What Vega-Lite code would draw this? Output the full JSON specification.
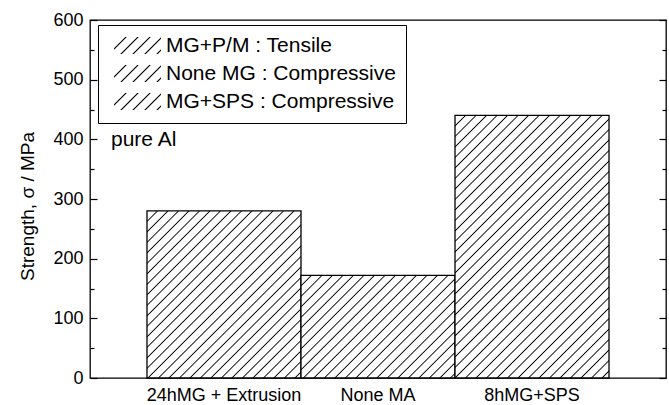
{
  "$schema": "https://vega.github.io/schema/vega-lite/v6.json",
  "width": 576,
  "height": 358,
  "autosize": "none",
  "padding": {"left": 90, "top": 20, "right": 3, "bottom": 27},
  "config": {"font": "Liberation Sans", "view": {"stroke": "black", "strokeWidth": 1.3},
    "legend": {"symbolStrokeColor": "black", "symbolStrokeWidth": 1.2}},
  "resolve": {"axis": {"y": "independent"}},
  "layer": [
    {
      "data": {"values": [
        {"cat": "24hMG + Extrusion", "val": 280, "test": "MG+P/M : Tensile"},
        {"cat": "None MA", "val": 172, "test": "None MG : Compressive"},
        {"cat": "8hMG+SPS", "val": 440, "test": "MG+SPS : Compressive"}
      ]},
      "mark": {"type": "bar", "stroke": "black", "strokeWidth": 1.3},
      "encoding": {
        "x": {"field": "cat", "type": "nominal", "sort": null,
          "scale": {"type": "band", "domain": ["24hMG + Extrusion", "None MA", "8hMG+SPS"], "paddingInner": 0, "paddingOuter": 0.37},
          "axis": {"title": null, "ticks": false, "domain": false, "labelFontSize": 18, "labelPadding": 8, "labelColor": "black", "labelAngle": 0}},
        "y": {"field": "val", "type": "quantitative",
          "scale": {"domain": [0, 600], "nice": false},
          "axis": {"values": [0,50,100,150,200,250,300,350,400,450,500,550,600],
            "labelExpr": "datum.value % 100 === 0 ? datum.label : ''",
            "tickSize": {"condition": {"test": "datum.value % 100 === 0", "value": -7}, "value": -4},
            "tickColor": "black", "tickWidth": 1.2,
            "labelPadding": 14, "labelFontSize": 18, "labelColor": "black",
            "domain": false, "grid": false,
            "title": "Strength, σ / MPa", "titleFontSize": 19, "titleFontWeight": "normal", "titleColor": "black",
            "titleX": -57, "titleY": 186, "titleAlign": "center", "titleBaseline": "alphabetic", "titleAngle": -90}},
        "stroke": {"value": "black"},
        "fill": {
          "condition": [
            {"test": "datum.cat === '24hMG + Extrusion'", "value":
              {"gradient": "linear", "x1": 0, "y1": 0, "x2": 1.2528, "y2": 1.3591, "stops": [
                {"offset":0.022,"color":"#fff"},{"offset":0.025,"color":"#000"},{"offset":0.028,"color":"#fff"},
                {"offset":0.047,"color":"#fff"},{"offset":0.05,"color":"#000"},{"offset":0.053,"color":"#fff"},
                {"offset":0.072,"color":"#fff"},{"offset":0.075,"color":"#000"},{"offset":0.078,"color":"#fff"},
                {"offset":0.097,"color":"#fff"},{"offset":0.1,"color":"#000"},{"offset":0.103,"color":"#fff"},
                {"offset":0.122,"color":"#fff"},{"offset":0.125,"color":"#000"},{"offset":0.128,"color":"#fff"},
                {"offset":0.147,"color":"#fff"},{"offset":0.15,"color":"#000"},{"offset":0.153,"color":"#fff"},
                {"offset":0.172,"color":"#fff"},{"offset":0.175,"color":"#000"},{"offset":0.178,"color":"#fff"},
                {"offset":0.197,"color":"#fff"},{"offset":0.2,"color":"#000"},{"offset":0.203,"color":"#fff"},
                {"offset":0.222,"color":"#fff"},{"offset":0.225,"color":"#000"},{"offset":0.228,"color":"#fff"},
                {"offset":0.247,"color":"#fff"},{"offset":0.25,"color":"#000"},{"offset":0.253,"color":"#fff"},
                {"offset":0.272,"color":"#fff"},{"offset":0.275,"color":"#000"},{"offset":0.278,"color":"#fff"},
                {"offset":0.297,"color":"#fff"},{"offset":0.3,"color":"#000"},{"offset":0.303,"color":"#fff"},
                {"offset":0.322,"color":"#fff"},{"offset":0.325,"color":"#000"},{"offset":0.328,"color":"#fff"},
                {"offset":0.347,"color":"#fff"},{"offset":0.35,"color":"#000"},{"offset":0.353,"color":"#fff"},
                {"offset":0.372,"color":"#fff"},{"offset":0.375,"color":"#000"},{"offset":0.378,"color":"#fff"},
                {"offset":0.397,"color":"#fff"},{"offset":0.4,"color":"#000"},{"offset":0.403,"color":"#fff"},
                {"offset":0.422,"color":"#fff"},{"offset":0.425,"color":"#000"},{"offset":0.428,"color":"#fff"},
                {"offset":0.447,"color":"#fff"},{"offset":0.45,"color":"#000"},{"offset":0.453,"color":"#fff"},
                {"offset":0.472,"color":"#fff"},{"offset":0.475,"color":"#000"},{"offset":0.478,"color":"#fff"},
                {"offset":0.497,"color":"#fff"},{"offset":0.5,"color":"#000"},{"offset":0.503,"color":"#fff"},
                {"offset":0.522,"color":"#fff"},{"offset":0.525,"color":"#000"},{"offset":0.528,"color":"#fff"},
                {"offset":0.547,"color":"#fff"},{"offset":0.55,"color":"#000"},{"offset":0.553,"color":"#fff"},
                {"offset":0.572,"color":"#fff"},{"offset":0.575,"color":"#000"},{"offset":0.578,"color":"#fff"},
                {"offset":0.597,"color":"#fff"},{"offset":0.6,"color":"#000"},{"offset":0.603,"color":"#fff"},
                {"offset":0.622,"color":"#fff"},{"offset":0.625,"color":"#000"},{"offset":0.628,"color":"#fff"},
                {"offset":0.647,"color":"#fff"},{"offset":0.65,"color":"#000"},{"offset":0.653,"color":"#fff"},
                {"offset":0.672,"color":"#fff"},{"offset":0.675,"color":"#000"},{"offset":0.678,"color":"#fff"},
                {"offset":0.697,"color":"#fff"},{"offset":0.7,"color":"#000"},{"offset":0.703,"color":"#fff"},
                {"offset":0.722,"color":"#fff"},{"offset":0.725,"color":"#000"},{"offset":0.728,"color":"#fff"},
                {"offset":0.747,"color":"#fff"},{"offset":0.75,"color":"#000"},{"offset":0.753,"color":"#fff"}
              ]}},
            {"test": "datum.cat === 'None MA'", "value":
              {"gradient": "linear", "x1": 0, "y1": 0, "x2": 1.8885, "y2": 1.2586, "stops": [
                {"offset":0.022,"color":"#fff"},{"offset":0.025,"color":"#000"},{"offset":0.028,"color":"#fff"},
                {"offset":0.047,"color":"#fff"},{"offset":0.05,"color":"#000"},{"offset":0.053,"color":"#fff"},
                {"offset":0.072,"color":"#fff"},{"offset":0.075,"color":"#000"},{"offset":0.078,"color":"#fff"},
                {"offset":0.097,"color":"#fff"},{"offset":0.1,"color":"#000"},{"offset":0.103,"color":"#fff"},
                {"offset":0.122,"color":"#fff"},{"offset":0.125,"color":"#000"},{"offset":0.128,"color":"#fff"},
                {"offset":0.147,"color":"#fff"},{"offset":0.15,"color":"#000"},{"offset":0.153,"color":"#fff"},
                {"offset":0.172,"color":"#fff"},{"offset":0.175,"color":"#000"},{"offset":0.178,"color":"#fff"},
                {"offset":0.197,"color":"#fff"},{"offset":0.2,"color":"#000"},{"offset":0.203,"color":"#fff"},
                {"offset":0.222,"color":"#fff"},{"offset":0.225,"color":"#000"},{"offset":0.228,"color":"#fff"},
                {"offset":0.247,"color":"#fff"},{"offset":0.25,"color":"#000"},{"offset":0.253,"color":"#fff"},
                {"offset":0.272,"color":"#fff"},{"offset":0.275,"color":"#000"},{"offset":0.278,"color":"#fff"},
                {"offset":0.297,"color":"#fff"},{"offset":0.3,"color":"#000"},{"offset":0.303,"color":"#fff"},
                {"offset":0.322,"color":"#fff"},{"offset":0.325,"color":"#000"},{"offset":0.328,"color":"#fff"},
                {"offset":0.347,"color":"#fff"},{"offset":0.35,"color":"#000"},{"offset":0.353,"color":"#fff"},
                {"offset":0.372,"color":"#fff"},{"offset":0.375,"color":"#000"},{"offset":0.378,"color":"#fff"},
                {"offset":0.397,"color":"#fff"},{"offset":0.4,"color":"#000"},{"offset":0.403,"color":"#fff"},
                {"offset":0.422,"color":"#fff"},{"offset":0.425,"color":"#000"},{"offset":0.428,"color":"#fff"},
                {"offset":0.447,"color":"#fff"},{"offset":0.45,"color":"#000"},{"offset":0.453,"color":"#fff"},
                {"offset":0.472,"color":"#fff"},{"offset":0.475,"color":"#000"},{"offset":0.478,"color":"#fff"},
                {"offset":0.497,"color":"#fff"},{"offset":0.5,"color":"#000"},{"offset":0.503,"color":"#fff"},
                {"offset":0.522,"color":"#fff"},{"offset":0.525,"color":"#000"},{"offset":0.528,"color":"#fff"},
                {"offset":0.547,"color":"#fff"},{"offset":0.55,"color":"#000"},{"offset":0.553,"color":"#fff"},
                {"offset":0.572,"color":"#fff"},{"offset":0.575,"color":"#000"},{"offset":0.578,"color":"#fff"},
                {"offset":0.597,"color":"#fff"},{"offset":0.6,"color":"#000"},{"offset":0.603,"color":"#fff"}
              ]}},
            {"test": "datum.cat === '8hMG+SPS'", "value":
              {"gradient": "linear", "x1": 0, "y1": 0, "x2": 0.6982, "y2": 1.1903, "stops": [
                {"offset":0.022,"color":"#fff"},{"offset":0.025,"color":"#000"},{"offset":0.028,"color":"#fff"},
                {"offset":0.047,"color":"#fff"},{"offset":0.05,"color":"#000"},{"offset":0.053,"color":"#fff"},
                {"offset":0.072,"color":"#fff"},{"offset":0.075,"color":"#000"},{"offset":0.078,"color":"#fff"},
                {"offset":0.097,"color":"#fff"},{"offset":0.1,"color":"#000"},{"offset":0.103,"color":"#fff"},
                {"offset":0.122,"color":"#fff"},{"offset":0.125,"color":"#000"},{"offset":0.128,"color":"#fff"},
                {"offset":0.147,"color":"#fff"},{"offset":0.15,"color":"#000"},{"offset":0.153,"color":"#fff"},
                {"offset":0.172,"color":"#fff"},{"offset":0.175,"color":"#000"},{"offset":0.178,"color":"#fff"},
                {"offset":0.197,"color":"#fff"},{"offset":0.2,"color":"#000"},{"offset":0.203,"color":"#fff"},
                {"offset":0.222,"color":"#fff"},{"offset":0.225,"color":"#000"},{"offset":0.228,"color":"#fff"},
                {"offset":0.247,"color":"#fff"},{"offset":0.25,"color":"#000"},{"offset":0.253,"color":"#fff"},
                {"offset":0.272,"color":"#fff"},{"offset":0.275,"color":"#000"},{"offset":0.278,"color":"#fff"},
                {"offset":0.297,"color":"#fff"},{"offset":0.3,"color":"#000"},{"offset":0.303,"color":"#fff"},
                {"offset":0.322,"color":"#fff"},{"offset":0.325,"color":"#000"},{"offset":0.328,"color":"#fff"},
                {"offset":0.347,"color":"#fff"},{"offset":0.35,"color":"#000"},{"offset":0.353,"color":"#fff"},
                {"offset":0.372,"color":"#fff"},{"offset":0.375,"color":"#000"},{"offset":0.378,"color":"#fff"},
                {"offset":0.397,"color":"#fff"},{"offset":0.4,"color":"#000"},{"offset":0.403,"color":"#fff"},
                {"offset":0.422,"color":"#fff"},{"offset":0.425,"color":"#000"},{"offset":0.428,"color":"#fff"},
                {"offset":0.447,"color":"#fff"},{"offset":0.45,"color":"#000"},{"offset":0.453,"color":"#fff"},
                {"offset":0.472,"color":"#fff"},{"offset":0.475,"color":"#000"},{"offset":0.478,"color":"#fff"},
                {"offset":0.497,"color":"#fff"},{"offset":0.5,"color":"#000"},{"offset":0.503,"color":"#fff"},
                {"offset":0.522,"color":"#fff"},{"offset":0.525,"color":"#000"},{"offset":0.528,"color":"#fff"},
                {"offset":0.547,"color":"#fff"},{"offset":0.55,"color":"#000"},{"offset":0.553,"color":"#fff"},
                {"offset":0.572,"color":"#fff"},{"offset":0.575,"color":"#000"},{"offset":0.578,"color":"#fff"},
                {"offset":0.597,"color":"#fff"},{"offset":0.6,"color":"#000"},{"offset":0.603,"color":"#fff"},
                {"offset":0.622,"color":"#fff"},{"offset":0.625,"color":"#000"},{"offset":0.628,"color":"#fff"},
                {"offset":0.647,"color":"#fff"},{"offset":0.65,"color":"#000"},{"offset":0.653,"color":"#fff"},
                {"offset":0.672,"color":"#fff"},{"offset":0.675,"color":"#000"},{"offset":0.678,"color":"#fff"},
                {"offset":0.697,"color":"#fff"},{"offset":0.7,"color":"#000"},{"offset":0.703,"color":"#fff"},
                {"offset":0.722,"color":"#fff"},{"offset":0.725,"color":"#000"},{"offset":0.728,"color":"#fff"},
                {"offset":0.747,"color":"#fff"},{"offset":0.75,"color":"#000"},{"offset":0.753,"color":"#fff"},
                {"offset":0.772,"color":"#fff"},{"offset":0.775,"color":"#000"},{"offset":0.778,"color":"#fff"},
                {"offset":0.797,"color":"#fff"},{"offset":0.8,"color":"#000"},{"offset":0.803,"color":"#fff"},
                {"offset":0.822,"color":"#fff"},{"offset":0.825,"color":"#000"},{"offset":0.828,"color":"#fff"},
                {"offset":0.847,"color":"#fff"},{"offset":0.85,"color":"#000"},{"offset":0.853,"color":"#fff"},
                {"offset":0.872,"color":"#fff"},{"offset":0.875,"color":"#000"},{"offset":0.878,"color":"#fff"},
                {"offset":0.897,"color":"#fff"},{"offset":0.9,"color":"#000"},{"offset":0.903,"color":"#fff"},
                {"offset":0.922,"color":"#fff"},{"offset":0.925,"color":"#000"},{"offset":0.928,"color":"#fff"},
                {"offset":0.947,"color":"#fff"},{"offset":0.95,"color":"#000"},{"offset":0.953,"color":"#fff"},
                {"offset":0.972,"color":"#fff"},{"offset":0.975,"color":"#000"},{"offset":0.978,"color":"#fff"}
              ]}}
          ],
          "value":
              {"gradient": "linear", "x1": 0, "y1": 0, "x2": 9.04, "y2": 3.278, "stops": [
                {"offset":0.022,"color":"#fff"},{"offset":0.025,"color":"#000"},{"offset":0.028,"color":"#fff"},
                {"offset":0.047,"color":"#fff"},{"offset":0.05,"color":"#000"},{"offset":0.053,"color":"#fff"},
                {"offset":0.072,"color":"#fff"},{"offset":0.075,"color":"#000"},{"offset":0.078,"color":"#fff"},
                {"offset":0.097,"color":"#fff"},{"offset":0.1,"color":"#000"},{"offset":0.103,"color":"#fff"},
                {"offset":0.122,"color":"#fff"},{"offset":0.125,"color":"#000"},{"offset":0.128,"color":"#fff"}
              ]}
        },
        "opacity": {"field": "test", "type": "ordinal", "sort": null,
          "scale": {"domain": ["MG+P/M : Tensile", "None MG : Compressive", "MG+SPS : Compressive"], "range": [1, 1, 1]},
          "legend": {"orient": "none", "legendX": 8, "legendY": 5, "title": null,
            "padding": 10, "strokeColor": "black", "fillColor": "white",
            "symbolType": "M-2.76,-1H2.76V1H-2.76Z", "symbolSize": 289,
            "symbolStrokeColor": "black", "symbolStrokeWidth": 1.2,
            "symbolOffset": 19, "labelOffset": 18, "rowPadding": 5,
            "labelFontSize": 21, "labelColor": "black", "labelLimit": 400,
            "encode": {"symbols": {"update": {"stroke": {"value": "black"}, "strokeWidth": {"value": 1.2}}}}}
        }
      }
    },
    {
      "data": {"values": [{"cat": "24hMG + Extrusion", "val": 389, "note": "pure Al"}]},
      "mark": {"type": "text", "align": "left", "baseline": "alphabetic", "dx": -113, "fontSize": 21, "color": "black"},
      "encoding": {
        "x": {"field": "cat", "type": "nominal", "sort": null},
        "y": {"field": "val", "type": "quantitative",
          "axis": {"orient": "right", "values": [0,50,100,150,200,250,300,350,400,450,500,550,600],
            "labels": false, "title": null, "domain": false, "grid": false,
            "tickColor": "black", "tickWidth": 1.2,
            "tickSize": {"condition": {"test": "datum.value % 100 === 0", "value": -7}, "value": -4}}},
        "text": {"field": "note"}
      }
    }
  ]
}
